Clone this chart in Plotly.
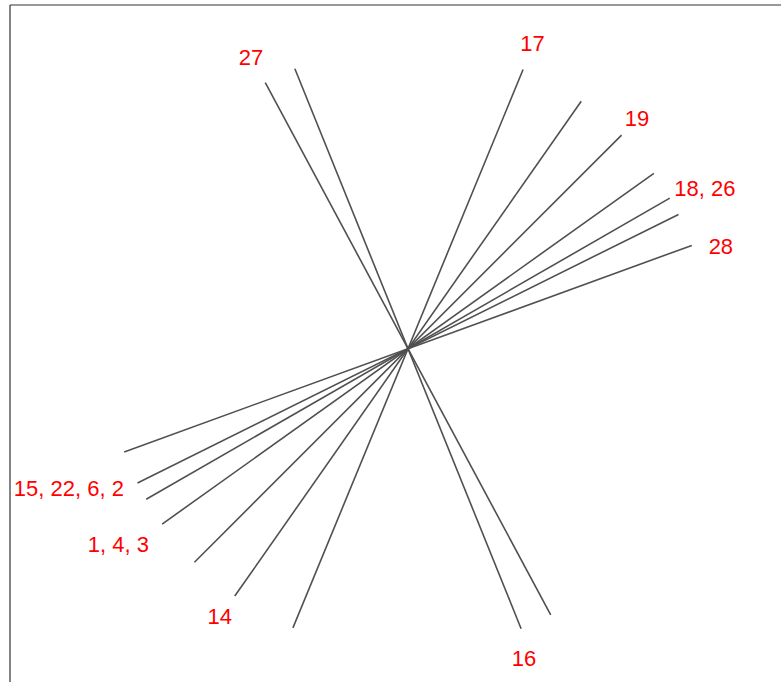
import numpy as np
import plotly.graph_objects as go

# Angle (degrees, counter-clockwise from +x) of each line through the centre
line_angles = [118.2, 112.0, 67.6, 55.0, 45.0, 35.5, 29.9, 26.4, 20.0]
half_length = 1.0

# Labels and their positions (data units)
label_text = ["27", "17", "19", "18, 26", "28", "15, 22, 6, 2", "1, 4, 3", "14", "16"]
label_x = [-0.520, 0.412, 0.758, 0.983, 1.036, -1.123, -0.959, -0.623, 0.384]
label_y = [0.956, 1.004, 0.757, 0.525, 0.331, -0.468, -0.654, -0.895, -1.031]

fig = go.Figure()
xs, ys = [], []
for a in line_angles:
    r = np.deg2rad(a)
    dx, dy = half_length * np.cos(r), half_length * np.sin(r)
    xs += [dx, -dx, None]
    ys += [dy, -dy, None]
fig.add_trace(go.Scatter(x=xs, y=ys, mode="lines",
                         line=dict(color="#505050", width=1.6),
                         hoverinfo="skip", showlegend=False))
fig.add_trace(go.Scatter(x=label_x, y=label_y, mode="text", text=label_text,
                         textfont=dict(color="#ff0000", size=22,
                                       family="Liberation Sans, Arial, sans-serif"),
                         hoverinfo="skip", showlegend=False))

W, H = 781, 682
cx, cy, scale = 408, 348.7, 302.0
fig.update_layout(
    width=W, height=H,
    margin=dict(l=0, r=0, t=0, b=0),
    paper_bgcolor="white", plot_bgcolor="white",
    xaxis=dict(range=[-cx / scale, (W - cx) / scale], visible=False, fixedrange=True),
    yaxis=dict(range=[-(H - cy) / scale, cy / scale], visible=False, fixedrange=True),
    shapes=[
        dict(type="line", xref="paper", yref="paper", x0=10 / W, x1=10 / W, y0=0, y1=1 - 5 / H,
             line=dict(color="#333333", width=1.2)),
        dict(type="line", xref="paper", yref="paper", x0=10 / W, x1=1, y0=1 - 5 / H, y1=1 - 5 / H,
             line=dict(color="#333333", width=1.2)),
    ],
)
fig.write_html("out.html", config={"displayModeBar": False},
               post_script="document.body.style.margin='0';document.body.style.overflow='hidden';")
